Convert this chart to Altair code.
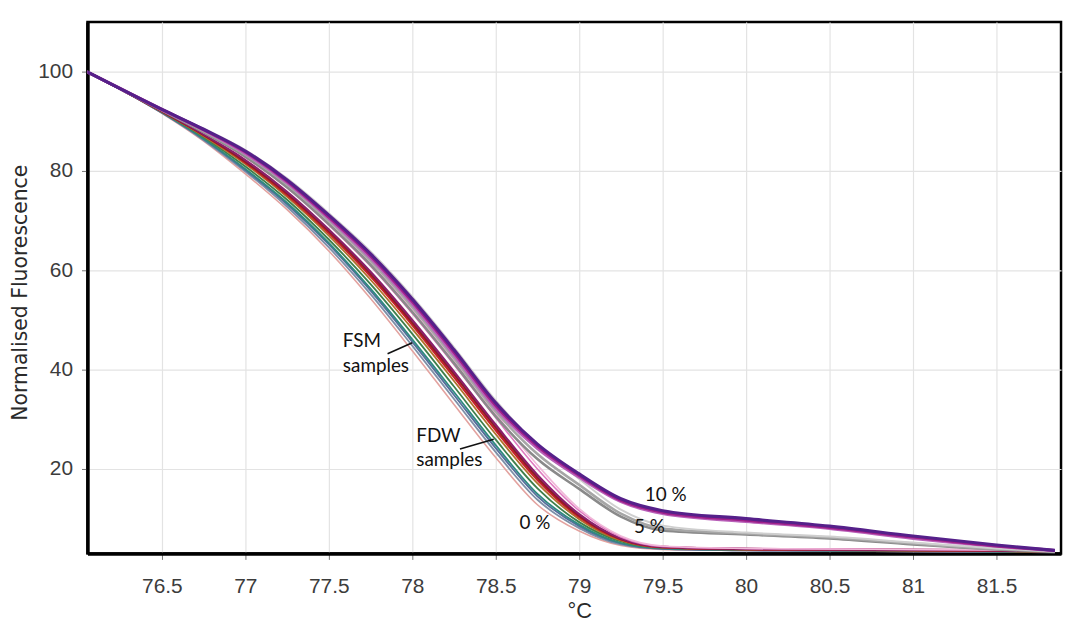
import altair as alt
import pandas as pd

# temperature grid (°C) shared by all melt curves
TEMPS = [76.05, 76.5, 76.75, 77.0, 77.25, 77.5, 77.75, 78.0, 78.25, 78.5, 78.75,
         79.0, 79.25, 79.5, 80.0, 80.5, 81.0, 81.5, 81.85]

# 0 % group (FDW / FSM samples)
C01 = [100, 91.6, 86.0, 79.4, 72.2, 63.9, 54.3, 43.8, 33.0, 22.3, 12.8, 7.5, 4.6, 3.8, 3.6, 3.5, 3.4, 3.3, 3.2]
C02 = [100, 91.7, 86.2, 79.9, 72.8, 64.6, 55.2, 44.8, 34.1, 23.4, 13.8, 8.1, 4.8, 3.9, 3.6, 3.5, 3.4, 3.3, 3.2]
C03 = [100, 91.7, 86.4, 80.2, 73.3, 65.2, 55.9, 45.6, 34.9, 24.2, 14.5, 8.5, 5.0, 3.9, 3.6, 3.5, 3.4, 3.3, 3.2]
C04 = [100, 91.8, 86.5, 80.4, 73.6, 65.5, 56.3, 46.1, 35.5, 24.8, 15.0, 8.8, 5.1, 4.0, 3.7, 3.6, 3.5, 3.4, 3.3]
C05 = [100, 91.9, 86.8, 80.9, 74.2, 66.2, 57.2, 47.2, 36.6, 25.9, 16.1, 9.3, 5.4, 4.1, 3.7, 3.6, 3.5, 3.4, 3.3]
C06 = [100, 91.9, 87.0, 81.4, 74.8, 67.0, 58.1, 48.2, 37.7, 27.0, 17.1, 9.9, 5.6, 4.2, 3.8, 3.7, 3.6, 3.5, 3.3]
C07 = [100, 92.0, 87.2, 81.7, 75.2, 67.5, 58.8, 49.0, 38.5, 27.8, 17.8, 10.3, 5.8, 4.2, 3.8, 3.7, 3.6, 3.5, 3.4]
C08 = [100, 92.0, 87.3, 81.9, 75.5, 67.9, 59.3, 49.5, 39.1, 28.4, 18.3, 10.6, 5.9, 4.3, 3.9, 3.8, 3.7, 3.6, 3.4]
C09 = [100, 92.1, 87.4, 82.2, 75.8, 68.2, 59.7, 50.0, 39.6, 28.9, 18.8, 10.9, 6.0, 4.3, 3.9, 3.8, 3.7, 3.6, 3.4]
C10 = [100, 92.2, 87.7, 82.7, 76.6, 69.1, 60.8, 51.3, 41.0, 30.3, 20.0, 11.6, 6.3, 4.4, 4.0, 3.9, 3.8, 3.7, 3.5]
C11 = [100, 92.2, 87.9, 83.1, 77.0, 69.7, 61.5, 52.1, 41.8, 31.1, 20.8, 12.0, 6.5, 4.5, 4.0, 3.9, 3.8, 3.7, 3.5]
# 5 % group
G1 = [100, 92.2, 87.8, 82.9, 76.7, 69.3, 61.1, 51.6, 41.3, 30.6, 22.0, 16.0, 10.4, 7.6, 6.8, 6.0, 4.8, 3.8, 3.3]
G2 = [100, 92.3, 88.0, 83.3, 77.3, 70.0, 61.9, 52.6, 42.3, 31.6, 23.0, 16.8, 11.0, 8.0, 7.0, 6.2, 5.0, 3.9, 3.4]
G3 = [100, 92.4, 88.5, 84.2, 78.5, 71.5, 63.8, 54.7, 44.5, 33.8, 24.8, 18.0, 11.8, 8.6, 7.2, 6.4, 5.2, 4.0, 3.4]
# 10 % group
P1 = [100, 92.3, 88.2, 83.5, 77.6, 70.4, 62.4, 53.2, 42.9, 32.2, 24.1, 18.3, 13.4, 11.0, 9.4, 8.0, 6.0, 4.4, 3.5]
P2 = [100, 92.4, 88.3, 83.8, 77.9, 70.7, 62.9, 53.7, 43.5, 32.8, 24.6, 18.7, 13.7, 11.3, 9.7, 8.2, 6.3, 4.5, 3.6]
P3 = [100, 92.4, 88.4, 84.0, 78.2, 71.1, 63.3, 54.2, 44.0, 33.3, 25.0, 19.0, 14.0, 11.6, 10.0, 8.5, 6.5, 4.7, 3.6]

CURVE_IDS = ["a01", "a02", "a03", "a04", "a05", "a06", "a07", "a08", "a09", "a10", "a11",
             "b01", "b02", "b03", "c01", "c02", "c03"]
CURVE_VALUES = [C01, C02, C03, C04, C05, C06, C07, C08, C09, C10, C11, G1, G2, G3, P1, P2, P3]
CURVE_COLORS = ["#e3a3a0", "#7d8fa8", "#566d9c", "#2f8a80", "#3f7f4a", "#b0702a", "#c8202a",
                "#8c1c24", "#8a1f6a", "#e07ac0", "#f0b8d8",
                "#8a8a8a", "#a6a6a6", "#cfcfcf",
                "#b860b8", "#a0208a", "#55208a"]
CURVE_WIDTHS = [1.6, 1.8, 1.8, 1.8, 1.8, 1.8, 2.2, 2.2, 2.2, 1.6, 1.6,
                2.6, 2.6, 2.0, 2.8, 3.0, 3.2]

X_TICKS = [76.5, 77, 77.5, 78, 78.5, 79, 79.5, 80, 80.5, 81, 81.5]
Y_TICKS = [20, 40, 60, 80, 100]

LABEL_TEXT = ["FSM", "samples", "FDW", "samples", "10 %", "5 %", "0 %"]
LABEL_X = [77.584, 77.584, 78.024, 78.024, 79.393, 79.328, 78.643]
LABEL_Y = [44.6, 39.6, 25.4, 20.6, 13.6, 7.2, 8.0]

POINTER_X = [77.852, 78.286]
POINTER_Y = [43.2, 24.0]
POINTER_X2 = [78.0, 78.488]
POINTER_Y2 = [45.4, 26.0]

rows = []
for cid, vals, w in zip(CURVE_IDS, CURVE_VALUES, CURVE_WIDTHS):
    for t, v in zip(TEMPS, vals):
        rows.append({"t": t, "v": v, "id": cid, "w": w})
df = pd.DataFrame(rows)

labels_df = pd.DataFrame({"t": LABEL_X, "v": LABEL_Y, "txt": LABEL_TEXT})
ptr_df = pd.DataFrame({"t": POINTER_X, "v": POINTER_Y, "t2": POINTER_X2, "v2": POINTER_Y2})

xs = alt.Scale(domain=[76.054, 81.887], nice=False, zero=False)
ys = alt.Scale(domain=[3, 110], nice=False, zero=False)

x_axis = alt.Axis(values=X_TICKS, labelExpr="datum.value", title="°C",
                  titleY=65, titleX=495, titleBaseline="alphabetic",
                  titleFontSize=22, labelFontSize=21, labelPadding=16)
y_axis = alt.Axis(values=Y_TICKS, title="Normalised Fluorescence",
                  titleAngle=270, titleX=-67, titleY=272, titleAlign="center",
                  titleBaseline="middle", titleFont="DejaVu Sans", titleFontSize=20.5,
                  labelFontSize=21, labelPadding=9)

lines = alt.Chart(df).mark_line(interpolate="monotone", clip=True).encode(
    x=alt.X("t:Q", scale=xs, axis=x_axis),
    y=alt.Y("v:Q", scale=ys, axis=y_axis),
    color=alt.Color("id:N", scale=alt.Scale(domain=CURVE_IDS, range=CURVE_COLORS), legend=None),
    strokeWidth=alt.StrokeWidth("w:Q", scale=None),
)

texts = alt.Chart(labels_df).mark_text(align="left", baseline="alphabetic", font="Lato",
                                       fontSize=19, color="#111").encode(
    x=alt.X("t:Q", scale=xs), y=alt.Y("v:Q", scale=ys), text="txt:N")

pointers = alt.Chart(ptr_df).mark_rule(color="#111", strokeWidth=1.6).encode(
    x=alt.X("t:Q", scale=xs), y=alt.Y("v:Q", scale=ys), x2="t2:Q", y2="v2:Q")

chart = alt.layer(lines, pointers, texts).properties(
    width=980, height=535,
    autosize=alt.AutoSizeParams(type="none"),
    padding={"left": 80, "top": 12, "right": 4, "bottom": 67},
    background="white",
).configure_view(stroke="black", strokeWidth=2.5).configure_axis(
    labelFont="Liberation Sans", titleFont="Liberation Sans",
    labelColor="#3c3c3c", titleColor="#2a2a2a", titleFontWeight="normal",
    domainColor="black", domainWidth=3.5, tickColor="#777", tickSize=6,
    gridColor="#e3e3e3", gridWidth=1.2,
)

chart.save("out.html", embed_options={"renderer": "svg", "actions": False})
